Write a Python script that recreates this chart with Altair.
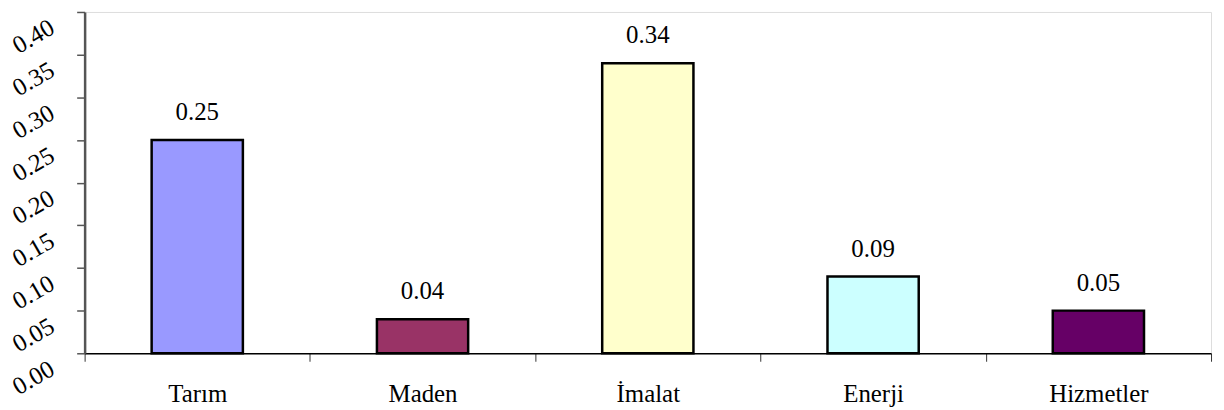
import altair as alt
import pandas as pd

categories = ["Tarım", "Maden", "İmalat", "Enerji", "Hizmetler"]
values = [0.25, 0.04, 0.34, 0.09, 0.05]
colors = ["#9999FF", "#993366", "#FFFFCC", "#CCFFFF", "#660066"]
y_ticks = [0.0, 0.05, 0.10, 0.15, 0.20, 0.25, 0.30, 0.35, 0.40]

df = pd.DataFrame({"cat": categories, "val": values, "col": colors})

FONT = "Liberation Serif"
FS = 25

x = alt.X("cat:N", sort=categories, title=None,
          scale=alt.Scale(paddingInner=0, paddingOuter=0),
          axis=alt.Axis(labelAngle=0, labelFont=FONT, labelFontSize=FS, labelColor="black",
                        tickBand="extent", tickSize=8, tickColor="#333333", tickWidth=1,
                        domainColor="black", domainWidth=1.5, labelPadding=20, grid=False))

y = alt.Y("val:Q", title=None,
          scale=alt.Scale(domain=[0, 0.4], nice=False),
          axis=alt.Axis(values=y_ticks, format=".2f", labelFont=FONT, labelFontSize=FS,
                        labelColor="black", labelAngle=-30, labelAlign="center",
                        labelBaseline="middle", labelPadding=44, labelOffset=24,
                        labelOverlap=False, labelBound=False, labelFlush=False,
                        tickSize=8, tickColor="#555555", tickWidth=1.5,
                        domainColor="#555555", domainWidth=2.5, grid=False))

bars = alt.Chart(df).mark_bar(width=alt.RelativeBandSize(0.405), stroke="black", strokeWidth=2.5).encode(
    x=x, y=y, fill=alt.Fill("col:N", scale=None)
)

text = alt.Chart(df).mark_text(font=FONT, fontSize=FS, baseline="alphabetic", dy=-20, color="black").encode(
    x=alt.X("cat:N", sort=categories), y="val:Q", text=alt.Text("val:Q", format=".2f")
)

chart = (bars + text).properties(
    width=1132, height=343,
    padding={"left": 77, "top": 3, "right": 5, "bottom": 56},
    autosize=alt.AutoSizeParams(type="none"),
).configure_view(stroke="#888888", strokeWidth=2.5).configure(background="white")

chart.save("out.html", embed_options={"renderer": "svg", "actions": False})
